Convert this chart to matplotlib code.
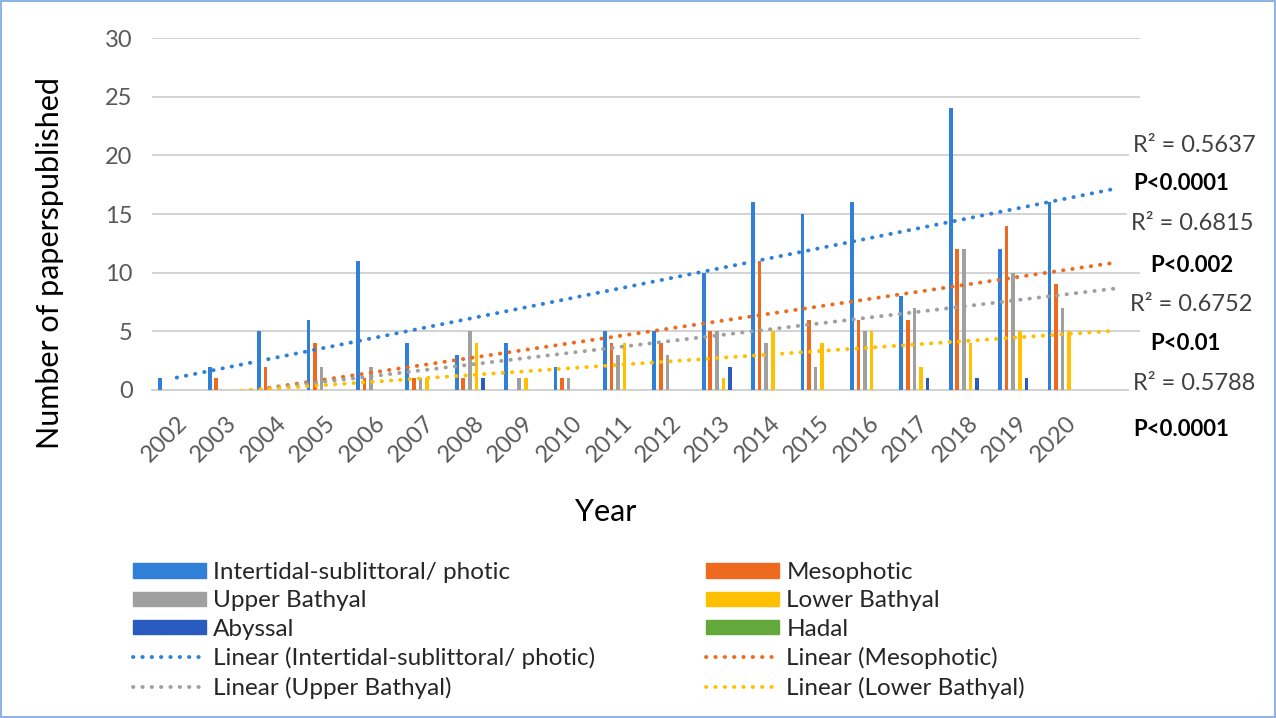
import numpy as np
import matplotlib
matplotlib.use("Agg")
import matplotlib.pyplot as plt
from matplotlib.patches import Patch, Rectangle
from matplotlib.lines import Line2D
import matplotlib.transforms as mtransforms

# data
years = list(range(2002, 2021))
intertidal = [1, 2, 5, 6, 11, 4, 3, 4, 2, 5, 5, 10, 16, 15, 16, 8, 24, 12, 16]
mesophotic = [0, 1, 2, 4, 1, 1, 1, 0, 1, 4, 4, 5, 11, 6, 6, 6, 12, 14, 9]
upper_bathyal = [0, 0, 0, 2, 2, 1, 5, 1, 1, 3, 3, 5, 4, 2, 5, 7, 12, 10, 7]
lower_bathyal = [0, 0, 0, 0, 0, 1, 4, 1, 0, 4, 0, 1, 5, 4, 5, 2, 4, 5, 5]
abyssal = [0, 0, 0, 0, 0, 0, 1, 0, 0, 0, 0, 2, 0, 0, 0, 1, 1, 1, 0]
hadal = [0] * 19

names = ["Intertidal-sublittoral/ photic", "Mesophotic", "Upper Bathyal",
         "Lower Bathyal", "Abyssal", "Hadal"]
series = [intertidal, mesophotic, upper_bathyal, lower_bathyal, abyssal, hadal]
colors = ["#2f80d6", "#ee6a1e", "#a0a0a0", "#ffc000", "#2a5cc0", "#62a83a"]

stats_r2 = ["R\u00b2 = 0.5637", "R\u00b2 = 0.6815", "R\u00b2 = 0.6752", "R\u00b2 = 0.5788"]
stats_p = ["P<0.0001", "P<0.002", "P<0.01", "P<0.0001"]

plt.rcParams['font.family'] = ['Lato', 'DejaVu Sans']

W, H = 1276, 718
fig = plt.figure(figsize=(W / 100, H / 100), dpi=100)
ax = fig.add_axes([152 / W, 1 - 390 / H, (1140 - 152) / W, (390 - 38) / H])

x = np.arange(1, len(years) + 1)
step = 0.133
for i, (vals, c) in enumerate(zip(series, colors)):
    ax.bar(x + (i - 2.5) * step, vals, width=0.075, color=c, zorder=3)

# linear trend lines, forecast forward one period
xt = np.arange(1, len(years) + 2)
dots = (0, (0.1, 2.3))
for vals, c in zip(series[:4], colors[:4]):
    k, b = np.polyfit(x, vals, 1)
    ax.plot(xt, k * xt + b, color=c, lw=2.8, linestyle=dots,
            dash_capstyle='round', zorder=4)

ax.set_xlim(0.5, 20.5)
ax.set_ylim(0, 30)
ax.set_yticks(range(0, 31, 5))
ax.set_xticks(x)
ax.set_xticklabels([str(y) for y in years], rotation=45, ha='right',
                   rotation_mode='anchor', fontsize=17, color='#595959')
offset = mtransforms.ScaledTranslation(7 / 100, 0, fig.dpi_scale_trans)
for lab in ax.get_xticklabels():
    lab.set_transform(lab.get_transform() + offset)
ax.tick_params(axis='y', labelsize=17, labelcolor='#595959', length=0, pad=14)
ax.tick_params(axis='x', length=0, pad=16)
ax.grid(axis='y', color='#d0d0d0', lw=1.3, zorder=0)
for s in ['top', 'right', 'left']:
    ax.spines[s].set_visible(False)
ax.spines['bottom'].set_color('#d0d0d0')
ax.spines['bottom'].set_linewidth(1.3)

fig.text(50 / W, 1 - 263 / H, "Number of paperspublished", fontsize=22,
         rotation=90, ha='center', va='center')
fig.text(606 / W, 1 - 512 / H, "Year", fontsize=22, ha='center', va='center')

# R² and p-value labels on the right
r2_pos = [(1133, 145), (1131, 224), (1130, 304), (1133, 383)]
p_pos = [(1133, 183), (1150, 265), (1150, 343), (1133, 430)]
for (px, py), t in zip(r2_pos, stats_r2):
    fig.text(px / W, 1 - py / H, t, fontsize=17, color='#404040', ha='left', va='center',
             bbox=dict(facecolor='white', edgecolor='none', pad=3))
for (px, py), t in zip(p_pos, stats_p):
    fig.text(px / W, 1 - py / H, t, fontsize=16, fontweight='bold', color='black',
             ha='left', va='center',
             bbox=dict(facecolor='white', edgecolor='none', pad=3))

# legend in two columns
def bar_handle(c):
    return Patch(facecolor=c, edgecolor=c)

def line_handle(c):
    return Line2D([], [], color=c, lw=2.8, linestyle=dots, dash_capstyle='round')

left_h = [bar_handle(colors[0]), bar_handle(colors[2]), bar_handle(colors[4]),
          line_handle(colors[0]), line_handle(colors[2])]
left_l = [names[0], names[2], names[4], "Linear (" + names[0] + ")", "Linear (" + names[2] + ")"]
right_h = [bar_handle(colors[1]), bar_handle(colors[3]), bar_handle(colors[5]),
           line_handle(colors[1]), line_handle(colors[3])]
right_l = [names[1], names[3], names[5], "Linear (" + names[1] + ")", "Linear (" + names[3] + ")"]

leg_kw = dict(frameon=False, fontsize=17.5, handlelength=3.0, handleheight=0.55,
              labelspacing=0.3, handletextpad=0.3, labelcolor='#262626',
              borderpad=0, loc='upper left')
fig.legend(left_h, left_l, bbox_to_anchor=(121 / W, 1 - 550 / H), **leg_kw)
fig.legend(right_h, right_l, bbox_to_anchor=(694 / W, 1 - 550 / H), **leg_kw)

fig.add_artist(Rectangle((0.001, 0.001), 0.998, 0.998, transform=fig.transFigure,
                         fill=False, edgecolor='#8fb4e3', lw=1.5))

fig.savefig("out.png", dpi=100)
